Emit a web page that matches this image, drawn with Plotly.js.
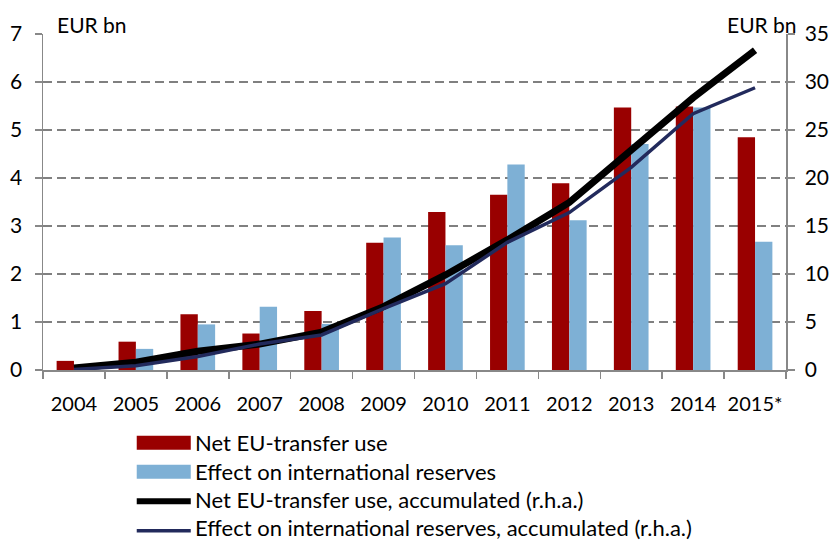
<!DOCTYPE html>
<html>
<head>
<meta charset="utf-8">
<script src="https://cdn.plot.ly/plotly-3.0.1.min.js"></script>
<style>html,body{margin:0;padding:0;background:#fff}#chart{width:833px;height:541px}</style>
</head>
<body>
<div id="chart"></div>
<script>
var years = ["2004","2005","2006","2007","2008","2009","2010","2011","2012","2013","2014","2015*"];
var netUse = [0.19,0.59,1.16,0.76,1.23,2.65,3.29,3.65,3.89,5.47,5.49,4.85];
var reserves = [0.0,0.44,0.95,1.32,0.96,2.76,2.60,4.28,3.12,4.71,5.47,2.67];
var netUseAcc = [0.2,0.8,1.95,2.7,3.95,6.6,9.9,13.55,17.45,22.9,28.35,33.3];
var reservesAcc = [0.05,0.45,1.4,2.7,3.65,6.4,9.0,13.3,16.4,21.1,26.7,29.4];
var names = ["Net EU-transfer use","Effect on international reserves","Net EU-transfer use, accumulated (r.h.a.)","Effect on international reserves, accumulated (r.h.a.)"];
var cRed = "#990000", cBlue = "#7EB0D5", cBlack = "#000000", cNavy = "#222A5C";
var font = "Lato, 'Open Sans', sans-serif";

var traces = [
  {type:"bar", x:years, y:netUse, name:names[0], marker:{color:cRed}, showlegend:false},
  {type:"bar", x:years, y:reserves, name:names[1], marker:{color:cBlue}, showlegend:false},
  {type:"scatter", mode:"lines", x:years, y:netUseAcc, yaxis:"y2", name:names[2], line:{color:cBlack, width:7}, showlegend:false},
  {type:"scatter", mode:"lines", x:years, y:reservesAcc, yaxis:"y2", name:names[3], line:{color:cNavy, width:3.5}, showlegend:false}
];

// legend built from paper-coordinate shapes and text
var lx0 = (137-43.3)/742.7, lx1 = (191-43.3)/742.7, tx = (193-43.3)/742.7;
function py(p){ return (370.3-p)/336; }
var shapes = [
  {type:"rect", xref:"paper", yref:"paper", x0:lx0, x1:lx1, y0:py(450), y1:py(436), fillcolor:cRed, line:{width:0}},
  {type:"rect", xref:"paper", yref:"paper", x0:lx0, x1:lx1, y0:py(479), y1:py(465), fillcolor:cBlue, line:{width:0}},
  {type:"line", xref:"paper", yref:"paper", x0:lx0, x1:lx1, y0:py(501.5), y1:py(501.5), line:{color:cBlack, width:6}},
  {type:"line", xref:"paper", yref:"paper", x0:lx0, x1:lx1, y0:py(531), y1:py(531), line:{color:cNavy, width:3.5}}
];
var legY = [443, 472, 500, 528];
var annotations = names.map(function(n,i){
  return {xref:"paper", yref:"paper", x:tx, y:py(legY[i]), xanchor:"left", yanchor:"middle", text:n, showarrow:false, font:{family:font, size:22, color:"#000"}};
});
annotations.push({xref:"paper", yref:"paper", x:(55-43.3)/742.7, y:py(25), xanchor:"left", yanchor:"middle", text:"EUR bn", showarrow:false, font:{family:font, size:21, color:"#000"}});
annotations.push({xref:"paper", yref:"paper", x:(799-43.3)/742.7, y:py(25), xanchor:"right", yanchor:"middle", text:"EUR bn", showarrow:false, font:{family:font, size:21, color:"#000"}});

var layout = {
  width:833, height:541,
  margin:{l:43, r:47, t:34, b:171, pad:0},
  paper_bgcolor:"#fff", plot_bgcolor:"#fff",
  barmode:"group", bargap:0.44, bargroupgap:0,
  showlegend:false,
  font:{family:font, size:21, color:"#000"},
  xaxis:{type:"category", showline:true, linecolor:"#888", linewidth:1.5, ticks:"outside", tickson:"boundaries", ticklen:7, tickcolor:"#888", tickwidth:1.5, showgrid:false, tickfont:{size:20}, tickangle:0, ticklabelstandoff:15, fixedrange:true},
  yaxis:{range:[0,7], dtick:1, showline:true, linecolor:"#888", linewidth:1.5, ticks:"outside", ticklen:7, tickcolor:"#888", tickwidth:1.5, showgrid:true, gridcolor:"#808080", gridwidth:1.5, griddash:"9px,5px", zeroline:false, tickfont:{size:21}, ticklabelstandoff:8},
  yaxis2:{range:[0,35], dtick:5, overlaying:"y", side:"right", showline:true, linecolor:"#888", linewidth:1.5, ticks:"outside", ticklen:7, tickcolor:"#888", tickwidth:1.5, showgrid:false, zeroline:false, tickfont:{size:21}, ticklabelstandoff:6},
  shapes:shapes,
  annotations:annotations
};
Plotly.newPlot("chart", traces, layout, {displayModeBar:false, staticPlot:true});
</script>
</body>
</html>
